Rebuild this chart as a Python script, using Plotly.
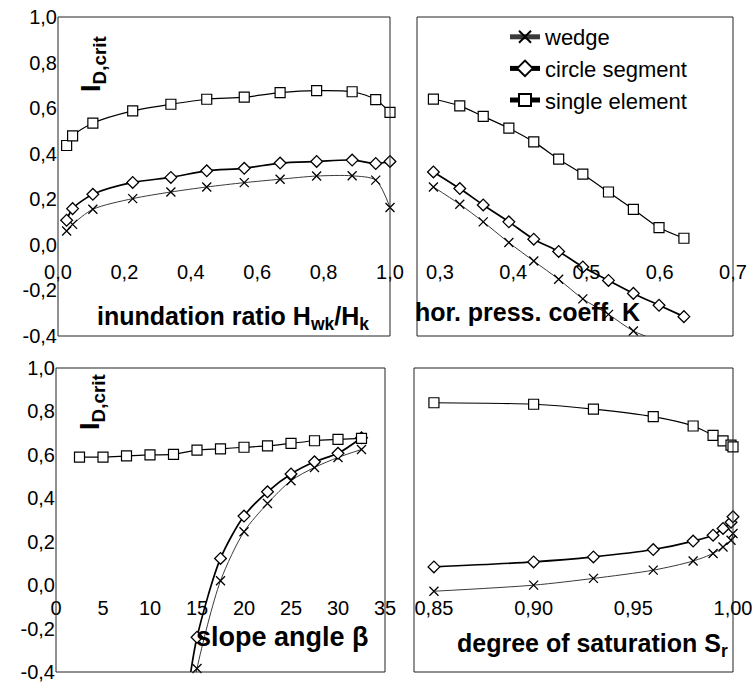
import plotly.graph_objects as go

W, H = 753, 682
FONT = "Liberation Sans, Arial, Helvetica, sans-serif"

# ---------------- data ----------------
series_names = ["wedge", "circle segment", "single element"]

# panel a: inundation ratio
inundation_ratio = [0.026, 0.044, 0.105, 0.225, 0.34, 0.448, 0.561, 0.669, 0.779, 0.886, 0.957, 1.0]
inund_wedge = [0.061, 0.090, 0.156, 0.203, 0.232, 0.254, 0.273, 0.288, 0.302, 0.303, 0.284, 0.164]
inund_circle = [0.108, 0.159, 0.222, 0.274, 0.296, 0.325, 0.336, 0.359, 0.366, 0.372, 0.357, 0.366]
inund_single = [0.436, 0.478, 0.534, 0.588, 0.617, 0.639, 0.648, 0.668, 0.677, 0.672, 0.637, 0.581]

# panel b: horizontal pressure coefficient K
press_coeff = [0.291, 0.327, 0.359, 0.394, 0.428, 0.462, 0.495, 0.530, 0.564, 0.599, 0.633]
press_wedge = [0.254, 0.178, 0.101, 0.010, -0.071, -0.151, -0.237, -0.305, -0.378, -0.422, None]
press_circle = [0.320, 0.247, 0.175, 0.101, 0.025, -0.029, -0.097, -0.156, -0.213, -0.265, -0.315]
press_single = [0.640, 0.610, 0.564, 0.512, 0.452, 0.376, 0.310, 0.232, 0.156, 0.076, 0.029]

# panel c: slope angle
slope_single_x = [2.5, 5, 7.5, 10, 12.5, 15, 17.5, 20, 22.5, 25, 27.5, 30, 32.5]
slope_single = [0.59, 0.59, 0.595, 0.60, 0.602, 0.622, 0.628, 0.635, 0.641, 0.653, 0.665, 0.671, 0.676]
slope_curve_x = [14, 15, 17.5, 20, 22.5, 25, 27.5, 30, 32.5]
slope_wedge = [-0.65, -0.384, 0.02, 0.246, 0.376, 0.481, 0.542, 0.588, 0.625]
slope_circle = [-0.50, -0.24, 0.123, 0.318, 0.430, 0.512, 0.568, 0.607, 0.679]

# panel d: degree of saturation
saturation = [0.85, 0.90, 0.93, 0.96, 0.98, 0.99, 0.995, 0.999, 1.0]
sat_wedge = [-0.028, 0.0, 0.031, 0.069, 0.111, 0.146, 0.176, 0.207, 0.238]
sat_circle = [0.084, 0.107, 0.130, 0.164, 0.203, 0.230, 0.261, 0.290, 0.315]
sat_single = [0.840, 0.833, 0.811, 0.776, 0.733, 0.690, 0.664, 0.645, 0.637]

# tick labels
y_ticks = [-0.4, -0.2, 0.0, 0.2, 0.4, 0.6, 0.8, 1.0]
y_tick_text = ["-0,4", "-0,2", "0,0", "0,2", "0,4", "0,6", "0,8", "1,0"]
xa_ticks = [0, 0.2, 0.4, 0.6, 0.8, 1.0]
xa_text = ["0,0", "0,2", "0,4", "0,6", "0,8", "1,0"]
xb_ticks = [0.3, 0.4, 0.5, 0.6, 0.7]
xb_text = ["0,3", "0,4", "0,5", "0,6", "0,7"]
xc_ticks = [0, 5, 10, 15, 20, 25, 30, 35]
xc_text = ["0", "5", "10", "15", "20", "25", "30", "35"]
xd_ticks = [0.85, 0.90, 0.95, 1.00]
xd_text = ["0,85", "0,90", "0,95", "1,00"]

# ---------------- helpers ----------------
def fx(px):
    return px / W

def fy(py):
    return 1 - py / H

styles = {
    "wedge": dict(line=dict(color="#3a3a3a", width=1),
                  marker=dict(symbol="x-thin", size=9, line=dict(color="black", width=1.3))),
    "circle segment": dict(line=dict(color="black", width=1.7),
                           marker=dict(symbol="diamond", size=9, color="white",
                                       line=dict(color="black", width=1.3))),
    "single element": dict(line=dict(color="black", width=1.2),
                           marker=dict(symbol="square", size=10, color="white",
                                       line=dict(color="black", width=1.2))),
}

fig = go.Figure()

def add(x, y, name, xa, ya, show):
    st = styles[name]
    fig.add_trace(go.Scatter(
        x=x, y=y, name=name, mode="lines+markers",
        line=dict(shape="spline", smoothing=0.8, **st["line"]),
        marker=st["marker"], xaxis=xa, yaxis=ya, showlegend=show,
        connectgaps=False, cliponaxis=False,
    ))

add(inundation_ratio, inund_wedge, "wedge", "x", "y", True)
add(inundation_ratio, inund_circle, "circle segment", "x", "y", True)
add(inundation_ratio, inund_single, "single element", "x", "y", True)

add(press_coeff, press_wedge, "wedge", "x2", "y2", False)
add(press_coeff, press_circle, "circle segment", "x2", "y2", False)
add(press_coeff, press_single, "single element", "x2", "y2", False)

add(slope_curve_x, slope_wedge, "wedge", "x3", "y3", False)
add(slope_curve_x, slope_circle, "circle segment", "x3", "y3", False)
add(slope_single_x, slope_single, "single element", "x3", "y3", False)

add(saturation, sat_wedge, "wedge", "x4", "y4", False)
add(saturation, sat_circle, "circle segment", "x4", "y4", False)
add(saturation, sat_single, "single element", "x4", "y4", False)

tickfont = dict(family=FONT, size=20, color="black")

def xaxis(px0, px1, rng, pos_px, tv, tt):
    return dict(domain=[fx(px0), fx(px1)], range=rng, anchor="free", position=fy(pos_px),
                tickvals=tv, ticktext=tt, ticks="", showline=False, showgrid=False,
                zeroline=False, tickfont=tickfont, fixedrange=True,
                ticklabeloverflow="allow")

def yaxis(py0, py1, anchor, labels):
    return dict(domain=[fy(py1), fy(py0)], range=[-0.4, 1.0], anchor=anchor,
                tickvals=y_ticks, ticktext=y_tick_text, showticklabels=labels,
                ticks="", showline=False, showgrid=False, zeroline=False,
                tickfont=tickfont, fixedrange=True, ticklabeloverflow="allow")

TOP = (17, 336)
BOT = (368, 672)

fig.update_layout(
    width=W, height=H, template="none",
    paper_bgcolor="white", plot_bgcolor="white",
    margin=dict(l=0, r=0, t=0, b=0),
    font=dict(family=FONT, color="black"),
    xaxis=xaxis(58, 390, [0, 1.0], 258, xa_ticks, xa_text),
    yaxis=yaxis(TOP[0], TOP[1], "x", True),
    xaxis2=xaxis(417, 733, [0.2686, 0.7], 258, xb_ticks, xb_text),
    yaxis2=yaxis(TOP[0], TOP[1], "x2", False),
    xaxis3=xaxis(56, 385, [0, 35], 594, xc_ticks, xc_text),
    yaxis3=yaxis(BOT[0], BOT[1], "x3", True),
    xaxis4=xaxis(414, 733, [0.84, 1.0], 594, xd_ticks, xd_text),
    yaxis4=yaxis(BOT[0], BOT[1], "x4", False),
    legend=dict(x=fx(505), y=fy(16), xanchor="left", yanchor="top",
                bgcolor="rgba(0,0,0,0)", borderwidth=0,
                font=dict(family=FONT, size=22, color="black"),
                itemsizing="constant", tracegroupgap=0),
    showlegend=True,
)

# frames
for xr, yr in [("x", "y"), ("x2", "y2"), ("x3", "y3"), ("x4", "y4")]:
    fig.add_shape(type="rect", xref=f"{xr} domain", yref=f"{yr} domain",
                  x0=0, x1=1, y0=0, y1=1, line=dict(color="#222", width=1),
                  fillcolor="rgba(0,0,0,0)", layer="above")

anns = [
    ("<b>inundation ratio H<sub>wk</sub>/H<sub>k</sub></b>", 233, 318, 25),
    ("<b>hor. press. coeff. K</b>", 527, 312, 25),
    ("<b>slope angle β</b>", 282, 637, 27),
    ("<b>degree of saturation S<sub>r</sub></b>", 592, 645, 25),
]
for txt, ax, ay, sz in anns:
    fig.add_annotation(text=txt, x=fx(ax), y=fy(ay), xref="paper", yref="paper",
                       xanchor="center", yanchor="middle", showarrow=False,
                       font=dict(family=FONT, size=sz, color="black"))

for ax, ay in [(93, 64), (92, 402)]:
    fig.add_annotation(text="<b>I<sub>D,crit</sub></b>", x=fx(ax), y=fy(ay),
                       xref="paper", yref="paper", xanchor="center", yanchor="middle",
                       textangle=-90, showarrow=False,
                       font=dict(family=FONT, size=27, color="black"))

fig.write_html("out.html", config={"displayModeBar": False},
               post_script="document.body.style.margin='0px';")
